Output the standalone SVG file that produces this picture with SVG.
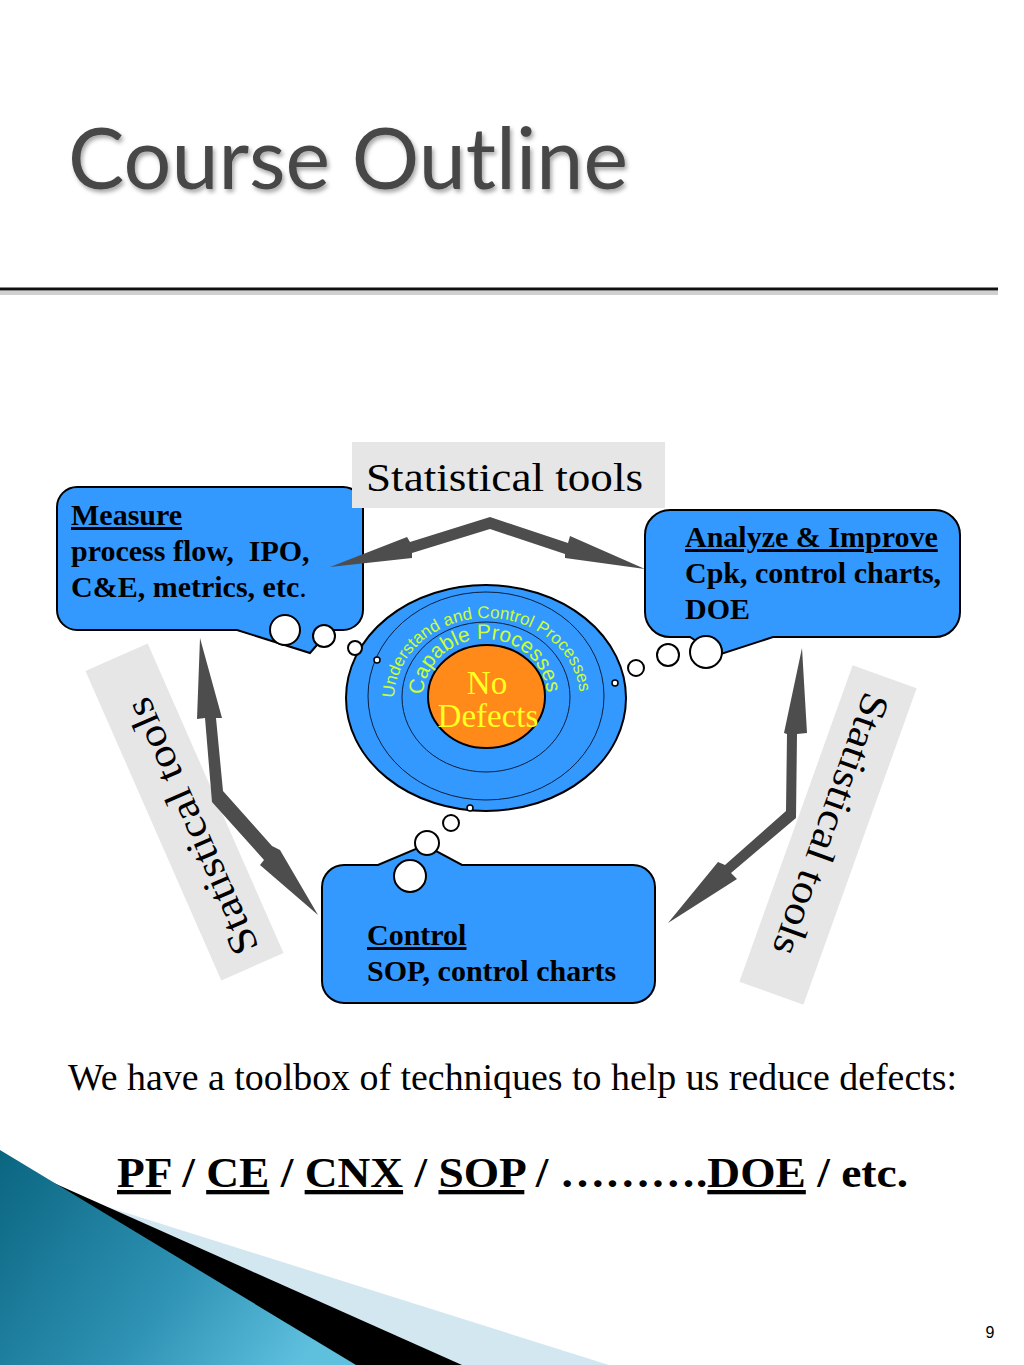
<svg xmlns="http://www.w3.org/2000/svg" width="1024" height="1365" viewBox="0 0 1024 1365">
  <defs>
    <style>
      .box { fill: #3399ff; stroke: #000; stroke-width: 2; }
      .bub { fill: #fff; stroke: #000; stroke-width: 2; }
      .dot { fill: #fff; stroke: #000; stroke-width: 1.5; }
      .arrow { fill: #4d4d4d; }
      .lbl { fill: #e6e6e6; }
      .bt { font-family: "Liberation Serif", "Times New Roman", serif; font-weight: bold; font-size: 30px; fill: #000; }
      .u { text-decoration: underline; }
      .st { font-family: "Liberation Serif", "Times New Roman", serif; font-size: 40px; fill: #000; }
      .ring { fill: none; stroke: #0a1f3c; stroke-width: 1; }
      .arc { font-family: "Liberation Sans", Arial, sans-serif; fill: #ccff33; }
    </style>
    <filter id="shadow" x="-5%" y="-20%" width="115%" height="150%">
      <feDropShadow dx="2" dy="3" stdDeviation="2" flood-color="#000" flood-opacity="0.35"/>
    </filter>
    <linearGradient id="teal" x1="0" y1="1150" x2="300" y2="1365" gradientUnits="userSpaceOnUse">
      <stop offset="0" stop-color="#0a6580"/>
      <stop offset="0.6" stop-color="#2f93b5"/>
      <stop offset="1" stop-color="#5fc0de"/>
    </linearGradient>
    <path id="arcOuter" d="M 394,700 A 93,82 0 0 1 580,700"/>
    <path id="arcInner" d="M 423,697 A 62,58 0 0 1 547,697"/>
  </defs>

  <rect width="1024" height="1365" fill="#fff"/>

  <!-- Title -->
  <g id="title">
    <text x="68" y="189" font-family="Lato, 'Open Sans', sans-serif" font-size="86" fill="#474747" textLength="560" lengthAdjust="spacingAndGlyphs" filter="url(#shadow)">Course Outline</text>
    <line x1="0" y1="293" x2="998" y2="293" stroke="#d0d0d0" stroke-width="4"/>
    <line x1="0" y1="289" x2="998" y2="289" stroke="#111" stroke-width="3"/>
  </g>

  <!-- Central target -->
  <g id="target">
    <ellipse cx="486" cy="698" rx="140" ry="113" fill="#3399ff" stroke="#000" stroke-width="2"/>
    <ellipse class="ring" cx="486" cy="696" rx="118" ry="104"/>
    <ellipse class="ring" cx="486" cy="697" rx="84" ry="75"/>
    <ellipse cx="486.5" cy="696.5" rx="58.5" ry="51.5" fill="#ff8a1a" stroke="#000" stroke-width="2"/>
    <text class="arc" font-size="17"><textPath href="#arcOuter" startOffset="2">Understand and Control Processes</textPath></text>
    <text class="arc" font-size="21"><textPath href="#arcInner" startOffset="2">Capable Processes</textPath></text>
    <text x="487" y="694" text-anchor="middle" font-family="'Liberation Serif', serif" font-size="33" fill="#ffff22">No</text>
    <text x="488" y="727" text-anchor="middle" font-family="'Liberation Serif', serif" font-size="33" fill="#ffff22">Defects</text>
    <circle class="dot" cx="377" cy="660" r="3"/>
    <circle class="dot" cx="615" cy="683" r="3"/>
    <circle class="dot" cx="470" cy="808" r="3"/>
  </g>

  <!-- Measure -->
  <g id="measure">
    <path class="box" d="M 77,487 H 343 A 20,20 0 0 1 363,507 V 610 A 20,20 0 0 1 343,630 H 330 L 310,653 L 237,630 H 77 A 20,20 0 0 1 57,610 V 507 A 20,20 0 0 1 77,487 Z"/>
    <circle class="bub" cx="285" cy="630" r="15"/>
    <circle class="bub" cx="324" cy="636" r="11"/>
    <circle class="bub" cx="355" cy="648" r="7"/>
    <text class="bt" x="71" y="525"><tspan class="u">Measure</tspan></text>
    <text class="bt" x="71" y="561" xml:space="preserve">process flow,  IPO,</text>
    <text class="bt" x="71" y="597">C&amp;E, metrics, etc<tspan font-weight="normal">.</tspan></text>
  </g>

  <!-- Analyze & Improve -->
  <g id="analyze">
    <path class="box" d="M 670,510 H 935 A 25,25 0 0 1 960,535 V 612 A 25,25 0 0 1 935,637 H 773 L 718,655 L 690,637 H 670 A 25,25 0 0 1 645,612 V 535 A 25,25 0 0 1 670,510 Z"/>
    <circle class="bub" cx="706" cy="652" r="16"/>
    <circle class="bub" cx="668" cy="655" r="11"/>
    <circle class="bub" cx="636" cy="668" r="8"/>
    <text class="bt" x="685" y="547"><tspan class="u">Analyze &amp; Improve</tspan></text>
    <text class="bt" x="685" y="583">Cpk, control charts,</text>
    <text class="bt" x="685" y="619">DOE</text>
  </g>

  <!-- Control -->
  <g id="control">
    <path class="box" d="M 344,865 H 378 L 425,845 L 462,865 H 633 A 22,22 0 0 1 655,887 V 981 A 22,22 0 0 1 633,1003 H 344 A 22,22 0 0 1 322,981 V 887 A 22,22 0 0 1 344,865 Z"/>
    <circle class="bub" cx="410" cy="876" r="16"/>
    <circle class="bub" cx="427" cy="843" r="12"/>
    <circle class="bub" cx="451" cy="823" r="8"/>
    <text class="bt" x="367" y="945"><tspan class="u">Control</tspan></text>
    <text class="bt" x="367" y="981">SOP, control charts</text>
  </g>

  <!-- Statistical tools labels -->
  <g id="label-top">
    <rect class="lbl" x="352" y="442" width="313" height="66"/>
    <text class="st" x="366" y="491" textLength="277" lengthAdjust="spacingAndGlyphs">Statistical tools</text>
  </g>
  <g id="label-left" transform="translate(184.5,812) rotate(-113.7)">
    <rect class="lbl" x="-169" y="-34" width="338" height="68"/>
    <text class="st" x="-154" y="14" textLength="276" lengthAdjust="spacingAndGlyphs">Statistical tools</text>
  </g>
  <g id="label-right" transform="translate(828,835) rotate(109.7)">
    <rect class="lbl" x="-168" y="-34" width="336" height="68"/>
    <text class="st" x="-149" y="14" textLength="276" lengthAdjust="spacingAndGlyphs">Statistical tools</text>
  </g>

  <!-- Connectors -->
  <g id="connectors">
    <polygon class="arrow" points="330,567 407,537 410,542 490,517 568,543 570,536 645,569 565,558 565,554 490,529 412,553 412,558"/>
    <polygon class="arrow" points="200,638 222,718 216,718 223,791 272,846 280,850 318,915 260,865 264,860 212,802 205,718 197,719"/>
    <polygon class="arrow" points="802,648 807,733 797,734 796,818 731,873 737,879 668,923 718,862 725,865 786,811 787,734 784,733"/>
  </g>

  <!-- Bottom text -->
  <g id="footer-text">
    <text x="68" y="1090" font-family="'Liberation Serif', serif" font-size="37" fill="#000" textLength="889" lengthAdjust="spacingAndGlyphs">We have a toolbox of techniques to help us reduce defects:</text>
    <text x="117" y="1187" font-family="'Liberation Serif', serif" font-weight="bold" font-size="43" fill="#000" textLength="791" lengthAdjust="spacingAndGlyphs"><tspan class="u">PF</tspan> / <tspan class="u">CE</tspan> / <tspan class="u">CNX</tspan> / <tspan class="u">SOP</tspan> / ……….<tspan class="u">DOE</tspan> / etc.</text>
  </g>

  <!-- Decoration -->
  <g id="decoration">
    <polygon points="0,1173 609,1365 0,1365" fill="#d3e7f1"/>
    <polygon points="0,1159 462,1365 0,1365" fill="#000"/>
    <polygon points="0,1150 356,1365 0,1365" fill="url(#teal)"/>
  </g>

  <text x="990" y="1338" text-anchor="middle" font-family="'Liberation Sans', Arial, sans-serif" font-size="16" fill="#000">9</text>
</svg>
